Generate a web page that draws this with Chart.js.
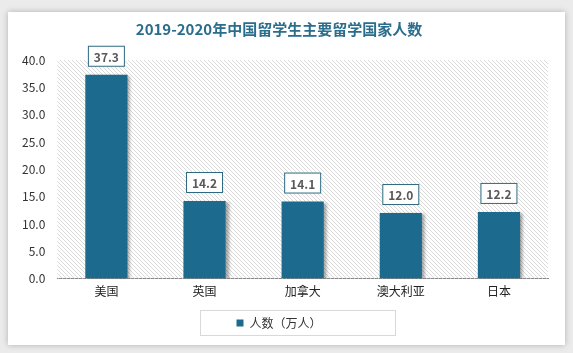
<!DOCTYPE html>
<html>
<head>
<meta charset="utf-8">
<script src="https://cdn.jsdelivr.net/npm/chart.js@4"></script>
<style>
  html, body { margin: 0; padding: 0; background: #ebebeb; }
  body { width: 573px; height: 353px; position: relative; overflow: hidden; }
  #card { position: absolute; left: 8px; top: 12px; width: 557px; height: 333px; background: #fff;
          box-shadow: 0 0 6px rgba(0,0,0,0.25); }
  #card canvas { display: block; }
</style>
</head>
<body>
<div id="card"><canvas id="chart" width="557" height="333"></canvas></div>
<script>
const countries = ['美国', '英国', '加拿大', '澳大利亚', '日本'];
const students = [37.3, 14.2, 14.1, 12.0, 12.2];
const seriesName = '人数（万人）';
const titleText = '2019-2020年中国留学生主要留学国家人数';

const FONT = '"Noto Sans CJK SC", "Noto Sans", sans-serif';

// diagonal hatch for the plot background
function makeHatch() {
    const c = document.createElement('canvas');
    c.width = 4; c.height = 4;
    const g = c.getContext('2d');
    g.strokeStyle = '#d9d9d9';
    g.lineWidth = 1;
    g.beginPath();
    g.moveTo(0, 0); g.lineTo(4, 4);
    g.moveTo(-1, 3); g.lineTo(1, 5);
    g.moveTo(3, -1); g.lineTo(5, 1);
    g.stroke();
    return c;
}

const hatchPlugin = {
    id: 'hatch',
    beforeDatasetsDraw(chart) {
        const { ctx, chartArea: a } = chart;
        ctx.save();
        ctx.fillStyle = ctx.createPattern(makeHatch(), 'repeat');
        ctx.fillRect(a.left, a.top, a.right - a.left, a.bottom - a.top);
        ctx.restore();
    }
};

const shadowPlugin = {
    id: 'barShadow',
    beforeDatasetDraw(chart) {
        const ctx = chart.ctx;
        ctx.save();
        ctx.shadowColor = 'rgba(0,0,0,0.35)';
        ctx.shadowOffsetX = 3;
        ctx.shadowOffsetY = 1;
        ctx.shadowBlur = 3;
    },
    afterDatasetDraw(chart) {
        chart.ctx.restore();
    }
};

const labelPlugin = {
    id: 'valueBoxes',
    afterDatasetsDraw(chart) {
        const ctx = chart.ctx;
        const meta = chart.getDatasetMeta(0);
        ctx.save();
        ctx.font = 'bold 12px ' + FONT;
        ctx.textAlign = 'center';
        ctx.textBaseline = 'middle';
        meta.data.forEach((bar, i) => {
            const txt = students[i].toFixed(1);
            const w = 37, h = 21;
            const x = bar.x - w / 2, y = bar.y - 8 - h;
            ctx.fillStyle = '#fff';
            ctx.fillRect(x, y, w, h);
            ctx.strokeStyle = '#2d6a80';
            ctx.lineWidth = 1;
            ctx.strokeRect(x + 0.5, y + 0.5, w - 1, h - 1);
            ctx.fillStyle = '#595959';
            ctx.fillText(txt, bar.x, y + h / 2 + 1);
        });
        ctx.restore();
    }
};

const legendBoxPlugin = {
    id: 'legendBox',
    afterDraw(chart) {
        const ctx = chart.ctx;
        ctx.save();
        ctx.strokeStyle = '#d9d9d9';
        ctx.lineWidth = 1;
        ctx.strokeRect(192.5, 298.5, 195, 25);
        ctx.restore();
    }
};

new Chart(document.getElementById('chart'), {
    type: 'bar',
    data: {
        labels: countries,
        datasets: [{
            label: seriesName,
            data: students,
            backgroundColor: '#1d6a8f',
            borderWidth: 0,
            barPercentage: 0.43,
            categoryPercentage: 1
        }]
    },
    options: {
        responsive: false,
        animation: false,
        layout: { padding: { left: 2, right: 17, top: 0, bottom: 6 } },
        plugins: {
            title: {
                display: true,
                text: titleText,
                color: '#2a6d8c',
                font: { family: FONT, size: 15, weight: 'bold' },
                padding: { top: 8, bottom: 22 }
            },
            legend: {
                position: 'bottom',
                labels: {
                    boxWidth: 7,
                    boxHeight: 7,
                    color: '#333',
                    font: { family: FONT, size: 12 },
                    padding: 12
                }
            },
            tooltip: { enabled: false }
        },
        scales: {
            x: {
                grid: { display: false, drawTicks: false },
                border: { color: '#8c8c8c' },
                ticks: { color: '#222', font: { family: FONT, size: 12 }, padding: 6 }
            },
            y: {
                min: 0,
                max: 40,
                grid: { display: false, drawTicks: false },
                border: { display: false },
                ticks: {
                    stepSize: 5,
                    color: '#333',
                    padding: 12,
                    font: { family: FONT, size: 12 },
                    callback: v => v.toFixed(1)
                }
            }
        }
    },
    plugins: [hatchPlugin, shadowPlugin, labelPlugin, legendBoxPlugin]
});
</script>
</body>
</html>
